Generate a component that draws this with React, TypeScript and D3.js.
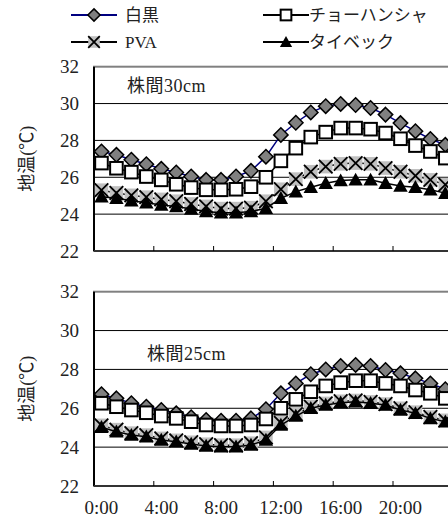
import * as d3 from "d3";
import React, { useEffect, useRef } from "react";

// hourly categories
const hours = [
  "0:00", "1:00", "2:00", "3:00", "4:00", "5:00", "6:00", "7:00",
  "8:00", "9:00", "10:00", "11:00", "12:00", "13:00", "14:00", "15:00",
  "16:00", "17:00", "18:00", "19:00", "20:00", "21:00", "22:00", "23:00",
];
const tickLabels = ["0:00", "4:00", "8:00", "12:00", "16:00", "20:00"];
const yTicks = [22, 24, 26, 28, 30, 32];
const seriesNames = ["白黒", "チョーハンシャ", "PVA", "タイベック"];
const markerTypes = ["diamond", "square", "cross", "triangle"];

// 株間30cm
const shiro30 = [27.4, 27.22, 26.95, 26.71, 26.46, 26.26, 26.04, 25.86, 25.86, 26.04, 26.35, 27.12, 28.3, 28.96, 29.52, 29.86, 29.98, 29.92, 29.76, 29.4, 28.94, 28.5, 28.08, 27.76];
const chou30 = [26.77, 26.49, 26.28, 26.04, 25.86, 25.62, 25.44, 25.32, 25.32, 25.35, 25.49, 26.0, 26.89, 27.58, 28.18, 28.45, 28.67, 28.67, 28.61, 28.4, 28.09, 27.72, 27.4, 27.04];
const pva30 = [25.3, 25.15, 25.02, 24.92, 24.8, 24.7, 24.55, 24.42, 24.3, 24.3, 24.35, 24.7, 25.35, 25.9, 26.3, 26.58, 26.73, 26.77, 26.73, 26.5, 26.3, 26.08, 25.86, 25.6];
const tyvek30 = [24.95, 24.86, 24.73, 24.62, 24.5, 24.41, 24.28, 24.14, 24.08, 24.08, 24.14, 24.32, 24.86, 25.22, 25.46, 25.68, 25.82, 25.86, 25.86, 25.68, 25.53, 25.46, 25.32, 25.14];

// 株間25cm
const shiro25 = [26.72, 26.51, 26.26, 26.08, 25.91, 25.74, 25.54, 25.4, 25.36, 25.36, 25.48, 25.95, 26.77, 27.28, 27.75, 28.0, 28.18, 28.23, 28.18, 27.97, 27.8, 27.54, 27.28, 26.98];
const chou25 = [26.26, 26.08, 25.91, 25.77, 25.6, 25.48, 25.31, 25.14, 25.09, 25.09, 25.14, 25.45, 26.0, 26.46, 26.85, 27.15, 27.32, 27.42, 27.42, 27.28, 27.15, 26.94, 26.77, 26.51];
const pva25 = [25.12, 24.9, 24.72, 24.62, 24.45, 24.35, 24.25, 24.15, 24.1, 24.1, 24.2, 24.5, 25.25, 25.7, 26.08, 26.25, 26.36, 26.4, 26.33, 26.22, 26.0, 25.8, 25.55, 25.38];
const tyvek25 = [25.02, 24.79, 24.62, 24.54, 24.37, 24.28, 24.16, 24.06, 24.02, 24.02, 24.11, 24.37, 25.14, 25.6, 26.0, 26.17, 26.29, 26.34, 26.26, 26.17, 25.91, 25.74, 25.48, 25.31];

const FONT = "'Liberation Serif', 'Noto Sans CJK JP', serif";

const drawMarker = (g, type, cx, cy, s = 1) => {
  if (type === "diamond") {
    const r = 7.2 * s;
    g.append("path")
      .attr("d", `M${cx},${cy - r}L${cx + r},${cy}L${cx},${cy + r}L${cx - r},${cy}Z`)
      .attr("fill", "#808080")
      .attr("stroke", "#000")
      .attr("stroke-width", 1.5);
  } else if (type === "square") {
    const r = 6.3 * s;
    g.append("rect")
      .attr("x", cx - r).attr("y", cy - r)
      .attr("width", 2 * r).attr("height", 2 * r)
      .attr("fill", "#fff")
      .attr("stroke", "#000")
      .attr("stroke-width", 2);
  } else if (type === "cross") {
    const r = 6.8 * s;
    g.append("rect")
      .attr("x", cx - r).attr("y", cy - r)
      .attr("width", 2 * r).attr("height", 2 * r)
      .attr("fill", "#c0c0c0");
    g.append("path")
      .attr("d", `M${cx - r},${cy - r}L${cx + r},${cy + r}M${cx + r},${cy - r}L${cx - r},${cy + r}`)
      .attr("stroke", "#000")
      .attr("stroke-width", 1.8);
  } else {
    const r = 7.2 * s;
    g.append("path")
      .attr("d", `M${cx},${cy - r}L${cx + r},${cy + r * 0.8}L${cx - r},${cy + r * 0.8}Z`)
      .attr("fill", "#000");
  }
};

const App = () => {
  const ref = useRef(null);

  useEffect(() => {
    const svg = d3.select(ref.current);
    svg.selectAll("*").remove();

    const x = d3.scaleBand().domain(hours).range([94, 94 + 24 * 14.95]);
    const cx = (h) => x(h) + x.bandwidth() / 2;

    const panels = [
      { label: "株間30cm", top: 66.7, bottom: 251, data: [shiro30, chou30, pva30, tyvek30], labels: false, lx: 127, ly: 86 },
      { label: "株間25cm", top: 291.7, bottom: 486, data: [shiro25, chou25, pva25, tyvek25], labels: true, lx: 147, ly: 354 },
    ];

    panels.forEach((p) => {
      const y = d3.scaleLinear().domain([22, 32]).range([p.bottom, p.top]);
      const g = svg.append("g");

      // gridlines
      g.selectAll(".grid")
        .data(yTicks.filter((t) => t > 22 && t < 32))
        .join("line")
        .attr("x1", 94).attr("x2", 460)
        .attr("y1", (d) => y(d)).attr("y2", (d) => y(d))
        .attr("stroke", "#000")
        .attr("stroke-width", 1);

      // plot border
      g.append("rect")
        .attr("x", 94).attr("y", y(32))
        .attr("width", 24 * 14.95).attr("height", y(22) - y(32))
        .attr("fill", "none")
        .attr("stroke", "#808080")
        .attr("stroke-width", 2);

      // axes
      g.append("line").attr("x1", 94).attr("x2", 94).attr("y1", y(32)).attr("y2", y(22))
        .attr("stroke", "#000").attr("stroke-width", 2);
      g.append("line").attr("x1", 94).attr("x2", 460).attr("y1", y(22)).attr("y2", y(22))
        .attr("stroke", "#333").attr("stroke-width", 2);

      // inward ticks every 4 hours
      g.selectAll(".xtick")
        .data(hours.filter((h, i) => i > 0 && i % 4 === 0))
        .join("line")
        .attr("x1", (d) => x(d)).attr("x2", (d) => x(d))
        .attr("y1", y(22)).attr("y2", y(22) - 5)
        .attr("stroke", "#000").attr("stroke-width", 1);

      // y tick labels
      g.selectAll(".ylab")
        .data(yTicks)
        .join("text")
        .attr("x", 79).attr("y", (d) => y(d))
        .attr("dy", "0.35em")
        .attr("text-anchor", "end")
        .attr("font-family", FONT)
        .attr("font-size", 19)
        .attr("fill", "#222")
        .text((d) => d);

      // y title
      g.append("text")
        .attr("transform", `translate(33, ${(y(22) + y(32)) / 2}) rotate(-90)`)
        .attr("text-anchor", "middle")
        .attr("font-family", FONT)
        .attr("font-size", 18)
        .attr("fill", "#222")
        .text("地温(℃)");

      // x tick labels
      if (p.labels) {
        g.selectAll(".xlab")
          .data(tickLabels)
          .join("text")
          .attr("x", (d) => cx(d)).attr("y", y(22) + 21)
          .attr("dy", "0.35em")
          .attr("text-anchor", "middle")
          .attr("font-family", FONT)
          .attr("font-size", 19)
          .attr("fill", "#222")
          .text((d) => d);
      }

      // panel label
      g.append("text")
        .attr("x", p.lx).attr("y", p.ly)
        .attr("dy", "0.35em")
        .attr("font-family", FONT)
        .attr("font-size", 18)
        .attr("letter-spacing", 0.5)
        .attr("fill", "#222")
        .text(p.label);

      // series: line then markers, in drawing order
      p.data.forEach((vals, si) => {
        const line = d3.line().x((d, i) => cx(hours[i])).y((d) => y(d));
        g.append("path")
          .datum(vals)
          .attr("d", line)
          .attr("fill", "none")
          .attr("stroke", si === 0 ? "#000080" : "#000")
          .attr("stroke-width", 1.5);
        const mg = g.append("g");
        vals.forEach((v, i) => drawMarker(mg, markerTypes[si], cx(hours[i]), y(v)));
      });
    });

    // legend
    const legendPos = [
      { x: 71, y: 15 },
      { x: 263, y: 15 },
      { x: 71, y: 42 },
      { x: 263, y: 42 },
    ];
    seriesNames.forEach((name, i) => {
      const lp = legendPos[i];
      const lg = svg.append("g");
      lg.append("line")
        .attr("x1", lp.x).attr("x2", lp.x + 46)
        .attr("y1", lp.y).attr("y2", lp.y)
        .attr("stroke", i === 0 ? "#000080" : "#000")
        .attr("stroke-width", 2);
      drawMarker(lg, markerTypes[i], lp.x + 23, lp.y, 0.85);
      lg.append("text")
        .attr("x", i % 2 === 0 ? lp.x + 54 : lp.x + 46)
        .attr("y", lp.y)
        .attr("dy", "0.35em")
        .attr("font-family", FONT)
        .attr("font-size", 17)
        .attr("fill", "#222")
        .text(name);
    });
  }, []);

  return (
    <svg
      ref={ref}
      width={448}
      height={517}
      style={{ position: "absolute", left: 0, top: 0, background: "#fff" }}
    />
  );
};

export default App;
